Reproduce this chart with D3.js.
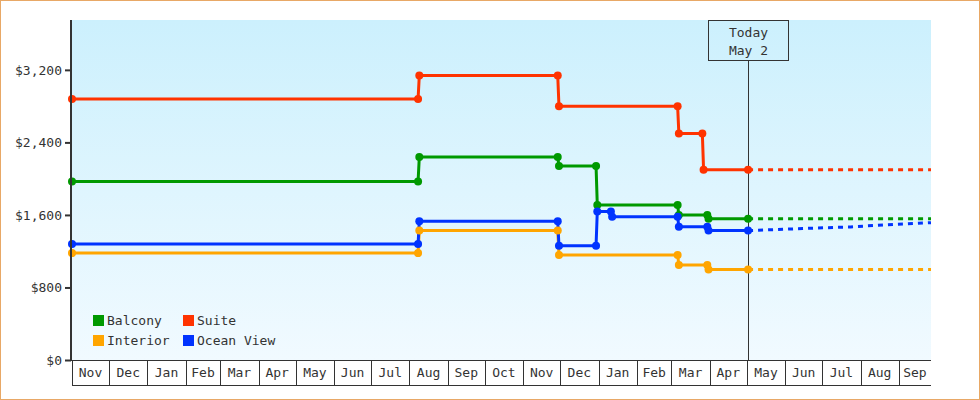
<!DOCTYPE html>
<html>
<head>
<meta charset="utf-8">
<script src="https://cdn.jsdelivr.net/npm/d3@7"></script>
<style>
  body { margin: 0; background: #fff; }
  svg { display: block; font-family: "DejaVu Sans Mono", monospace; }
  text { fill: #333; }
</style>
</head>
<body>
<div id="chart"></div>
<script>
// price history, one row per point: [date, price]
var balcony = [["2013-11-01",1969],["2014-08-08",1969],["2014-08-09",2239],["2014-11-29",2239],
  ["2014-11-30",2139],["2014-12-30",2139],["2014-12-31",1709],["2015-03-06",1709],
  ["2015-03-07",1599],["2015-03-30",1599],["2015-03-31",1559],["2015-05-02",1559]];
var suite = [["2013-11-01",2879],["2014-08-08",2879],["2014-08-09",3139],["2014-11-29",3139],
  ["2014-11-30",2799],["2015-03-06",2799],["2015-03-07",2499],["2015-03-26",2499],
  ["2015-03-27",2099],["2015-05-02",2099]];
var interior = [["2013-11-01",1179],["2014-08-08",1179],["2014-08-09",1429],["2014-11-29",1429],
  ["2014-11-30",1159],["2015-03-06",1159],["2015-03-07",1049],["2015-03-30",1049],
  ["2015-03-31",999],["2015-05-02",999]];
var oceanView = [["2013-11-01",1279],["2014-08-08",1279],["2014-08-09",1529],["2014-11-29",1529],
  ["2014-11-30",1259],["2014-12-30",1259],["2014-12-31",1639],["2015-01-11",1639],
  ["2015-01-12",1579],["2015-03-06",1579],["2015-03-07",1469],["2015-03-30",1469],
  ["2015-03-31",1429],["2015-05-02",1429]];

// projected prices after today (dashed)
var balconyFc = [["2015-05-02",1559],["2015-09-27",1559]];
var suiteFc = [["2015-05-02",2099],["2015-09-27",2099]];
var interiorFc = [["2015-05-02",999],["2015-09-27",999]];
var oceanViewFc = [["2015-05-02",1427],["2015-06-15",1450],["2015-07-24",1468],["2015-08-20",1490],["2015-09-27",1515]];

var seriesNames = ["Balcony","Suite","Interior","Ocean View"];
var seriesColors = ["#009900","#ff3300","#ffa500","#0033ff"];
var yTicks = [0, 800, 1600, 2400, 3200];
var startDate = "2013-11-01", endDate = "2015-09-27", todayDate = "2015-05-02";
var todayLabel = ["Today", "May 2"];

var parse = d3.timeParse("%Y-%m-%d");
var pastSeries = [balcony, suite, interior, oceanView];
var futureSeries = [balconyFc, suiteFc, interiorFc, oceanViewFc];

var W = 980, H = 400;
var pLeft = 72, pRight = 931, pTop = 20, pBottom = 360;

var svg = d3.select("#chart").append("svg").attr("width", W).attr("height", H);

var grad = svg.append("defs").append("linearGradient")
  .attr("id", "bg").attr("x1", 0).attr("y1", 0).attr("x2", 0).attr("y2", 1);
grad.append("stop").attr("offset", "0%").attr("stop-color", "#ccf0fd");
grad.append("stop").attr("offset", "100%").attr("stop-color", "#f1faff");

svg.append("rect").attr("x", 0.5).attr("y", 0.5).attr("width", W - 1).attr("height", H - 1)
  .attr("fill", "#fff").attr("stroke", "#e8a866");

var x = d3.scaleTime().domain([parse(startDate), parse(endDate)]).range([pLeft, pRight]);
var y = d3.scaleLinear().domain([0, 3750]).range([pBottom, pTop]);

svg.append("rect").attr("x", pLeft).attr("y", pTop)
  .attr("width", pRight - pLeft).attr("height", pBottom - pTop).attr("fill", "url(#bg)");

// today marker
var tx = Math.round(x(parse(todayDate))) + 0.5;
svg.append("line").attr("x1", tx).attr("x2", tx).attr("y1", 60).attr("y2", pBottom)
  .attr("stroke", "#333").attr("stroke-width", 1);
svg.append("rect").attr("x", tx - 40).attr("y", 20.5).attr("width", 80).attr("height", 40)
  .attr("fill", "none").attr("stroke", "#333");
svg.selectAll(".today").data(todayLabel).enter().append("text")
  .attr("x", tx).attr("y", function(d, i) { return 37 + i * 18; })
  .attr("text-anchor", "middle").attr("font-size", 13).text(function(d) { return d; });

var line = d3.line()
  .x(function(d) { return x(parse(d[0])); })
  .y(function(d) { return y(d[1]); });

// dashed projections
futureSeries.forEach(function(s, i) {
  svg.append("path").attr("d", line(s)).attr("fill", "none")
    .attr("stroke", seriesColors[i]).attr("stroke-width", 3)
    .attr("stroke-dasharray", "5,5");
});

pastSeries.forEach(function(s, i) {
  svg.append("path").attr("d", line(s)).attr("fill", "none")
    .attr("stroke", seriesColors[i]).attr("stroke-width", 3);
});
pastSeries.forEach(function(s, i) {
  svg.selectAll(".m" + i).data(s).enter().append("circle")
    .attr("cx", function(d) { return x(parse(d[0])); })
    .attr("cy", function(d) { return y(d[1]); })
    .attr("r", 4).attr("fill", seriesColors[i]);
});

// y axis
var yAxis = svg.append("g").attr("transform", "translate(" + (pLeft - 1) + ",0)")
  .call(d3.axisLeft(y).tickValues(yTicks).tickSize(6).tickPadding(3)
    .tickFormat(function(d) { return "$" + d3.format(",")(d); }));
yAxis.select(".domain").remove();
yAxis.selectAll(".tick line").attr("stroke", "#333").attr("stroke-width", 2);
yAxis.selectAll(".tick text").attr("font-size", 13).attr("font-family", "DejaVu Sans Mono").attr("fill", "#333");

// month cells along the bottom (open on the right end)
var months = d3.timeMonth.range(d3.timeMonth.floor(x.domain()[0]), x.domain()[1]);
svg.append("rect").attr("x", pLeft).attr("y", pBottom).attr("width", pRight - pLeft).attr("height", 25)
  .attr("fill", "#fff");
svg.append("line").attr("x1", pLeft).attr("x2", pRight).attr("y1", pBottom + 0.5).attr("y2", pBottom + 0.5)
  .attr("stroke", "#333");
svg.append("line").attr("x1", pLeft).attr("x2", pRight).attr("y1", pBottom + 25.5).attr("y2", pBottom + 25.5)
  .attr("stroke", "#333");
svg.selectAll(".div").data(months).enter().append("line")
  .attr("x1", function(d) { return Math.round(x(d)) + 0.5; })
  .attr("x2", function(d) { return Math.round(x(d)) + 0.5; })
  .attr("y1", pBottom).attr("y2", pBottom + 26)
  .attr("stroke", "#333");
svg.selectAll(".mlab").data(months).enter().append("text")
  .attr("x", function(d) {
    return (x(d) + Math.min(x(d3.timeMonth.offset(d, 1)), pRight)) / 2;
  })
  .attr("y", 377).attr("text-anchor", "middle").attr("font-size", 13)
  .text(d3.timeFormat("%b"));

svg.append("line").attr("x1", pLeft - 1).attr("x2", pLeft - 1).attr("y1", pTop).attr("y2", pBottom + 1)
  .attr("stroke", "#333").attr("stroke-width", 2);

// legend, two columns
var legend = svg.selectAll(".leg").data(seriesNames).enter().append("g")
  .attr("transform", function(d, i) {
    return "translate(" + (93 + (i % 2) * 90) + "," + (315 + Math.floor(i / 2) * 20) + ")";
  });
legend.append("rect").attr("width", 11).attr("height", 11)
  .attr("fill", function(d, i) { return seriesColors[i]; });
legend.append("text").attr("x", 14).attr("y", 10).attr("font-size", 13)
  .text(function(d) { return d; });
</script>
</body>
</html>
